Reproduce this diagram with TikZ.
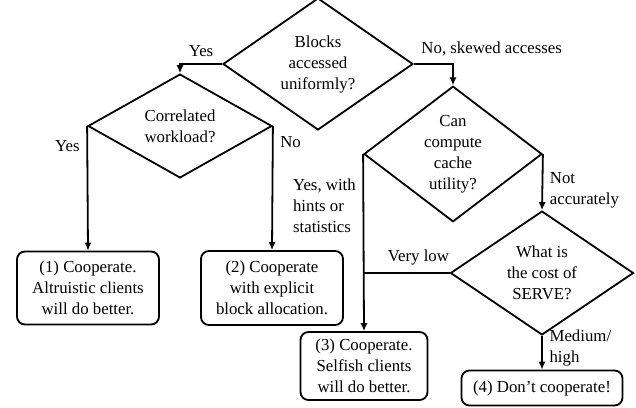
\documentclass[tikz,border=0pt]{standalone}
\usepackage{fontspec}
\setmainfont{Liberation Serif}
\usetikzlibrary{shapes.geometric,arrows.meta}

\begin{document}
\begin{tikzpicture}[x=0.5pt, y=-0.5pt,
    font=\fontsize{8.4}{10.5}\selectfont,
    line width=0.9pt,
    >={Latex[length=4pt,width=3.6pt]},
    question/.style={draw, shape=diamond, inner sep=0pt, align=center},
    outcome/.style={draw, rounded corners=4pt, align=center, inner sep=1pt}]
  \useasboundingbox (0,0) rectangle (636,407);

  \node[question, minimum width=95pt, minimum height=60pt] (uniform) at (318, 64) {Blocks\\accessed\\uniformly?};
  \node[question, minimum width=92pt, minimum height=46pt] (corr) at (180, 126) {Correlated\\workload?};
  \node[question, minimum width=89pt, minimum height=60pt] (util) at (453, 154) {Can\\compute\\cache\\utility?};
  \node[question, minimum width=91.5pt, minimum height=50pt] (cost) at (542, 273) {What is\\the cost of\\SERVE?};

  \node[outcome, minimum width=71pt, minimum height=36.5pt] (res1) at (88, 288) {(1) Cooperate.\\Altruistic clients\\will do better.};
  \node[outcome, minimum width=71pt, minimum height=37pt] (res2) at (272, 288) {(2) Cooperate\\with explicit\\block allocation.};
  \node[outcome, minimum width=63.5pt, minimum height=34pt] (res3) at (364, 366) {(3) Cooperate.\\Selfish clients\\will do better.};
  \node[outcome, minimum width=80.5pt, minimum height=17.5pt] (res4) at (542, 388) {(4) Don't cooperate!};

  \draw[->] (uniform.west) -| node[pos=0.25, above] {Yes} (corr.north);
  \draw[->] (uniform.east) -| node[pos=0, above right] {No, skewed accesses} (util.north);
  \draw[->] (corr.west) -- node[pos=0.16, left] {Yes} (res1.north);
  \draw[->] (corr.east) -- node[pos=0.13, right] {No} (res2.north);
  \draw[->] (util.west) -- node[pos=0.29, left, align=left] {Yes, with\\hints or\\statistics} (res3.north);
  \draw[->] (util.east) -- node[pos=0.64, right, align=left] {Not\\accurately} (cost.north);
  \coordinate (join) at (cost.west -| util.west);
  \draw (cost.west) -- node[pos=0.36, above] {Very low} (join);
  \draw[->] (cost.south) -- node[pos=0.36, right, align=left] {Medium/\\high} (res4.north);
\end{tikzpicture}
\end{document}
